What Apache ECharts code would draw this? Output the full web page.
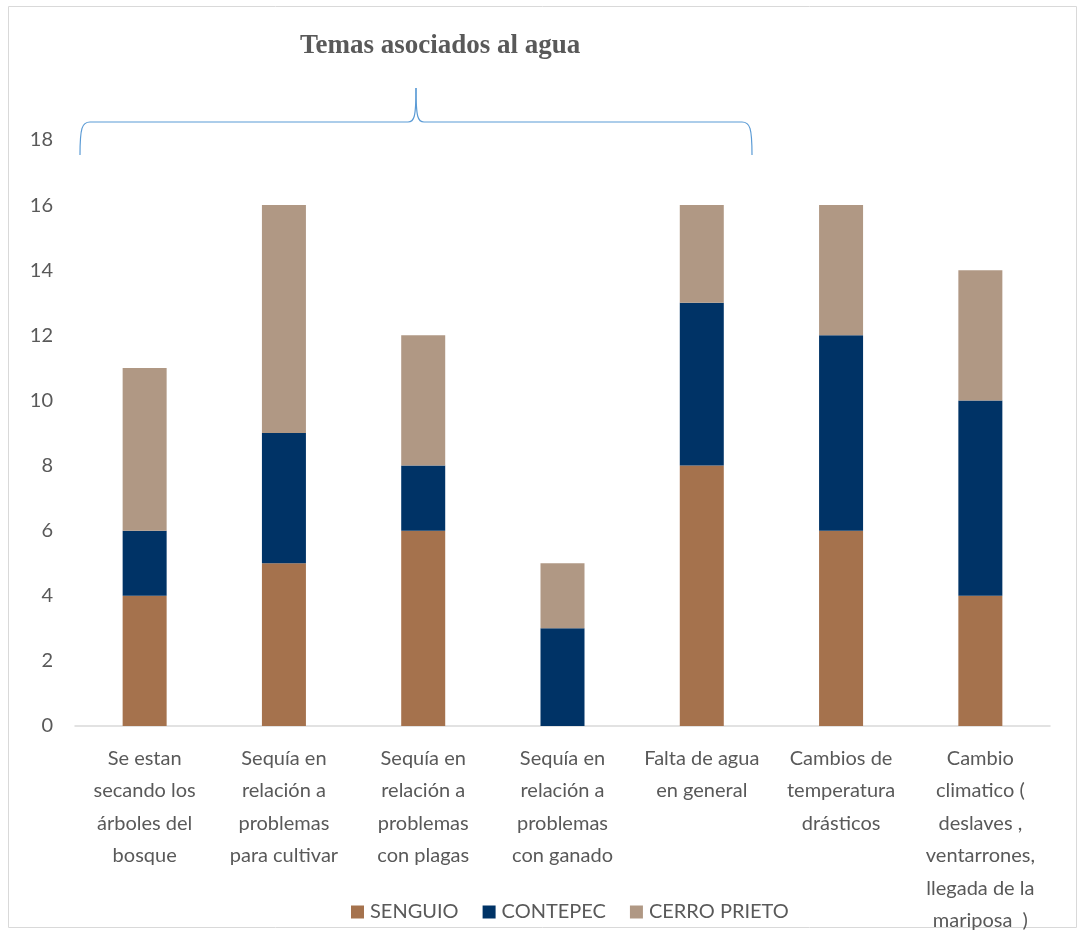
<!DOCTYPE html>
<html>
<head>
<meta charset="utf-8">
<script src="https://cdn.jsdelivr.net/npm/echarts@6/dist/echarts.min.js"></script>
<style>html,body{margin:0;padding:0;background:#fff;}#c{width:1078px;height:930px;}</style>
</head>
<body>
<div id="c"></div>
<script>
var categories = [
  "Se estan\nsecando los\nárboles del\nbosque",
  "Sequía en\nrelación a\nproblemas\npara cultivar",
  "Sequía en\nrelación a\nproblemas\ncon plagas",
  "Sequía en\nrelación a\nproblemas\ncon ganado",
  "Falta de agua\nen general",
  "Cambios de\ntemperatura\ndrásticos",
  "Cambio\nclimatico (\ndeslaves ,\nventarrones,\nllegada de la\nmariposa  )"
];
var senguio = [4, 5, 6, 0, 8, 6, 4];
var contepec = [2, 4, 2, 3, 5, 6, 6];
var cerroPrieto = [5, 7, 4, 2, 3, 4, 4];
var yTicks = [0, 2, 4, 6, 8, 10, 12, 14, 16, 18];

var font = "Lato, 'Open Sans', sans-serif";
var braceStyle = {fill: 'none', stroke: '#5B9BD5', lineWidth: 1.2};
var chart = echarts.init(document.getElementById('c'));
chart.setOption({
  animation: false,
  title: {
    text: 'Temas asociados al agua',
    left: 295, top: 28,
    textStyle: {fontFamily: "'Liberation Serif', 'Times New Roman', serif", fontWeight: 'bold', fontSize: 27, color: '#595959'}
  },
  grid: {left: 75, right: 28, top: 140, bottom: 204, containLabel: false, outerBoundsMode: 'none'},
  legend: {
    left: 346, top: 897,
    itemWidth: 13, itemHeight: 13, itemGap: 24,
    icon: 'rect',
    textStyle: {fontFamily: font, fontSize: 20, color: '#595959', padding: [0, 0, 0, 1]},
    data: ['SENGUIO', 'CONTEPEC', 'CERRO PRIETO']
  },
  xAxis: {
    type: 'category', data: categories,
    axisLine: {lineStyle: {color: '#d9d9d9', width: 1.5}},
    axisTick: {show: false},
    axisLabel: {interval: 0, margin: 16, lineHeight: 32.5, fontFamily: font, fontSize: 20, color: '#595959', align: 'center'}
  },
  yAxis: {
    type: 'value', min: yTicks[0], max: yTicks[yTicks.length - 1], interval: 2,
    splitLine: {show: false},
    axisLine: {show: false}, axisTick: {show: false},
    axisLabel: {fontFamily: font, fontSize: 20, color: '#595959', margin: 22}
  },
  series: [
    {name: 'SENGUIO', type: 'bar', stack: 't', barWidth: 44, data: senguio, itemStyle: {color: '#A5724D'}},
    {name: 'CONTEPEC', type: 'bar', stack: 't', barWidth: 44, data: contepec, itemStyle: {color: '#003366'}},
    {name: 'CERRO PRIETO', type: 'bar', stack: 't', barWidth: 44, data: cerroPrieto, itemStyle: {color: '#B09884'}}
  ],
  graphic: [
    {type: 'rect', shape: {x: 8.5, y: 6.5, width: 1068, height: 921}, style: {fill: 'none', stroke: '#d9d9d9', lineWidth: 1}, silent: true},
    {type: 'bezierCurve', silent: true, shape: {x1: 80, y1: 155, cpx1: 80, cpy1: 128, cpx2: 82, cpy2: 122, x2: 90, y2: 122}, style: braceStyle},
    {type: 'line', silent: true, shape: {x1: 90, y1: 122, x2: 408, y2: 122}, style: braceStyle},
    {type: 'bezierCurve', silent: true, shape: {x1: 408, y1: 122, cpx1: 414, cpy1: 122, cpx2: 416, cpy2: 118, x2: 416, y2: 88}, style: braceStyle},
    {type: 'bezierCurve', silent: true, shape: {x1: 416, y1: 88, cpx1: 416, cpy1: 118, cpx2: 418, cpy2: 122, x2: 424, y2: 122}, style: braceStyle},
    {type: 'line', silent: true, shape: {x1: 424, y1: 122, x2: 742, y2: 122}, style: braceStyle},
    {type: 'bezierCurve', silent: true, shape: {x1: 742, y1: 122, cpx1: 750, cpy1: 122, cpx2: 752, cpy2: 128, x2: 752, y2: 155}, style: braceStyle}
  ]
});
</script>
</body>
</html>
